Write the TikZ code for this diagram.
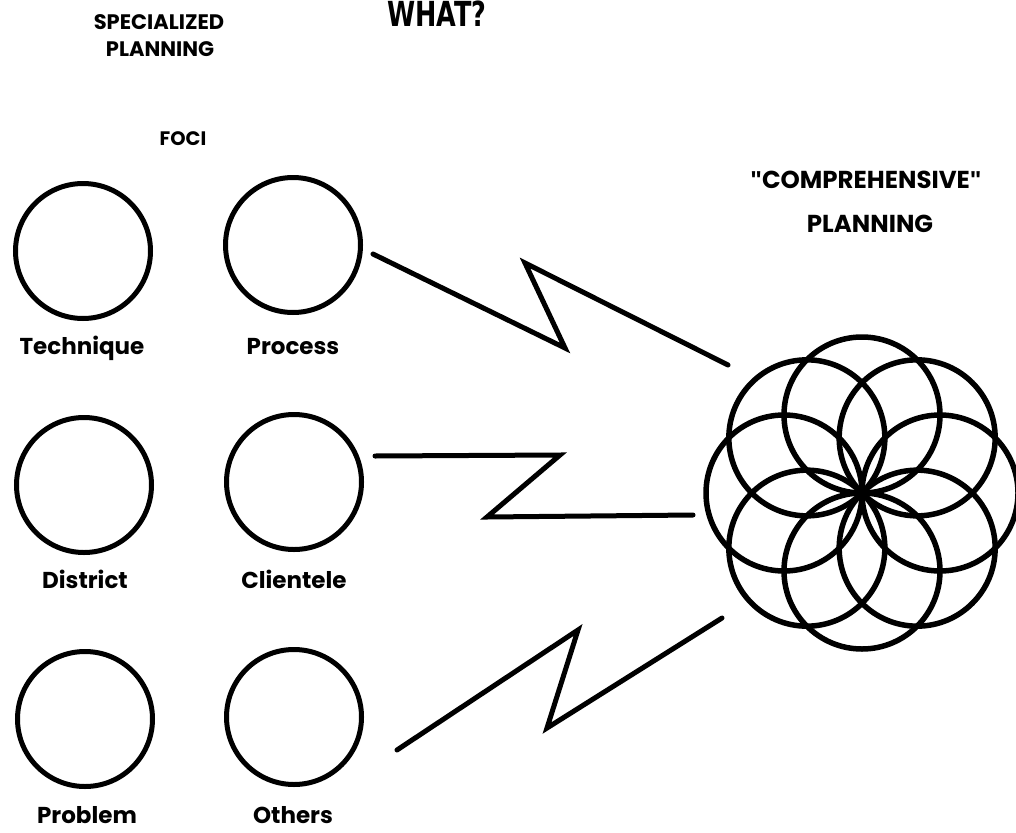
\documentclass[tikz,border=0pt]{standalone}
\usepackage{graphicx}
\usepackage{fontspec}
\setmainfont{Poppins}
\newfontfamily\headfont{DejaVu Sans}
\newfontfamily\quotefont{Liberation Sans}
\newcommand{\dq}{{\quotefont\bfseries\char"22}}
\begin{document}
\begin{tikzpicture}[x=1pt,y=-1pt,
  ring/.style={circle,draw,line width=5pt,minimum size=135pt,inner sep=0pt},
  bolt/.style={line width=5pt,line cap=round},
  petal/.style={line width=5.5pt},
  caption/.style={font=\fontsize{23}{26}\selectfont\bfseries,inner sep=0pt,anchor=base},
  lefthead/.style={font=\fontsize{21}{25}\selectfont\bfseries,inner sep=0pt,anchor=base},
  righthead/.style={font=\fontsize{24.5}{28}\selectfont\bfseries,inner sep=0pt,anchor=base}]
\useasboundingbox (0,0) rectangle (1016,832);
\clip (0,0) rectangle (1016,832);

% headings
\node[lefthead] (spec) at (159,30) {SPECIALIZED};
\node[lefthead] (specplan) at (160,57) {PLANNING};
\node[anchor=base,inner sep=0pt] (what) at (437,27)
  {\scalebox{0.85}[1.15]{\headfont\bfseries\fontsize{30}{30}\selectfont WHAT?}};
\node[anchor=base,inner sep=0pt,font=\fontsize{19.5}{24}\selectfont\bfseries] (foci) at (183,145) {FOCI};
\node[righthead] (comp) at (866,188) {\dq COMPREHENSIVE\dq};
\node[righthead] (compplan) at (870,232) {PLANNING};

% the six planning foci
\node[ring] (technique) at (83,251) {};
\node[ring] (process)   at (293,245) {};
\node[ring] (district)  at (84,485) {};
\node[ring] (clientele) at (294,482) {};
\node[ring] (problem)   at (85,719) {};
\node[ring] (others)    at (294,717) {};

\node[caption] (ltech) at (82,354) {Technique};
\node[caption] (lproc) at (293,354) {Process};
\node[caption] (ldist) at (85,588) {District};
\node[caption] (lcli)  at (294,588) {Clientele};
\node[caption] (lprob) at (87,823) {Problem};
\node[caption] (loth)  at (293,823) {Others};

% comprehensive planning: eight overlapping circles through one centre
\coordinate (rosette) at (862,493);
\foreach \a in {0,45,...,315}
  \draw[petal] (rosette) ++(\a:78) circle (78);

% zigzag links from the foci to the rosette
\coordinate (t0) at (373,254);
\coordinate (t1) at (565,348);
\coordinate (t2) at (525,263);
\coordinate (t3) at (728,365);
\draw[bolt] (t0) -- (t1) -- (t2) -- (t3);

\coordinate (m0) at (375,456);
\coordinate (m1) at (560,455);
\coordinate (m2) at (487,517);
\coordinate (m3) at (693,515);
\draw[bolt] (m0) -- (m1) -- (m2) -- (m3);

\coordinate (b0) at (397,750);
\coordinate (b1) at (578,630);
\coordinate (b2) at (547,728);
\coordinate (b3) at (722,618);
\draw[bolt] (b0) -- (b1) -- (b2) -- (b3);
\end{tikzpicture}
\end{document}
